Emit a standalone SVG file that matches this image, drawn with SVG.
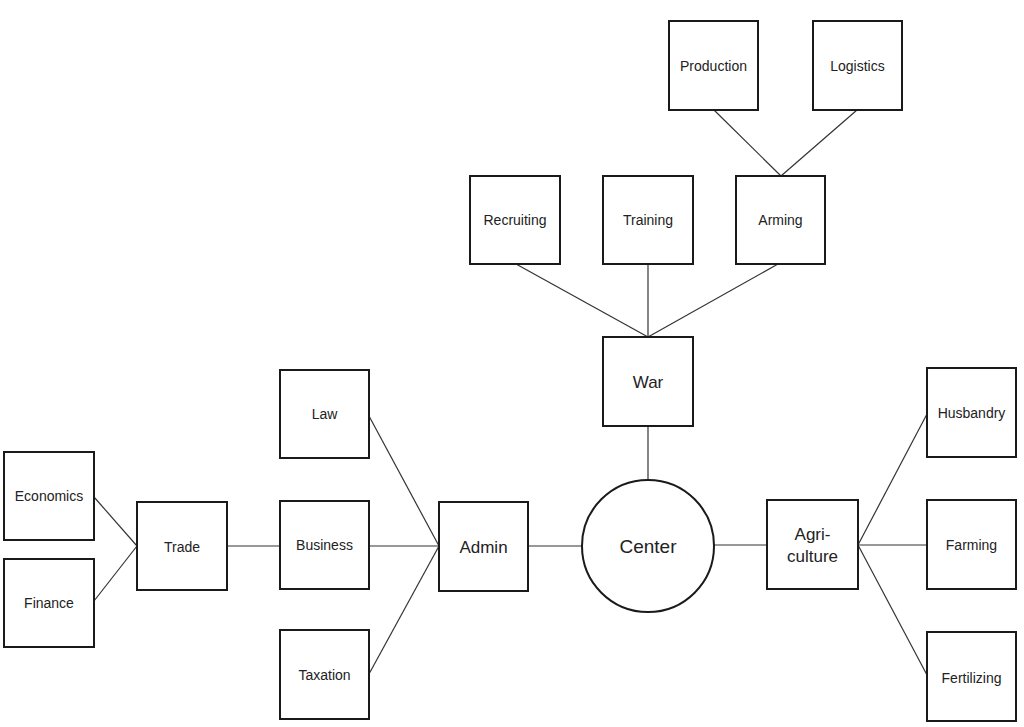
<svg xmlns="http://www.w3.org/2000/svg" width="1024" height="727" viewBox="0 0 1024 727">
<style>
.box{fill:#fff;stroke:#1a1a1a;stroke-width:2}
.lbl{font-family:"Liberation Sans",Arial,sans-serif;font-size:14px;fill:#222;text-anchor:middle}
.big{font-size:17px}
.ctr{font-size:19px}
.conn line{stroke:#333;stroke-width:1.2}
</style>
<rect width="1024" height="727" fill="#fff"/>
<g id="connectors" class="conn">
<line x1="714" y1="110" x2="781" y2="176"/>
<line x1="857" y1="110" x2="781" y2="176"/>
<line x1="516" y1="264" x2="648" y2="337"/>
<line x1="648" y1="264" x2="648" y2="337"/>
<line x1="778" y1="264" x2="648" y2="337"/>
<line x1="648" y1="426" x2="648" y2="480"/>
<line x1="528" y1="546" x2="582" y2="546"/>
<line x1="714" y1="545" x2="767" y2="545"/>
<line x1="858" y1="545" x2="927" y2="414"/>
<line x1="858" y1="545" x2="927" y2="545"/>
<line x1="858" y1="545" x2="927" y2="675"/>
<line x1="369" y1="546" x2="439" y2="546"/>
<line x1="369" y1="416" x2="439" y2="546"/>
<line x1="369" y1="674" x2="439" y2="546"/>
<line x1="227" y1="546" x2="280" y2="546"/>
<line x1="94" y1="497" x2="137" y2="546"/>
<line x1="94" y1="601" x2="137" y2="546"/>
</g>
<g id="production"><rect class="box" x="669" y="21" width="89" height="89"/><text class="lbl" x="713.5" y="70.5">Production</text></g>
<g id="logistics"><rect class="box" x="813" y="21" width="89" height="89"/><text class="lbl" x="857.5" y="70.5">Logistics</text></g>
<g id="recruiting"><rect class="box" x="470" y="176" width="90" height="88"/><text class="lbl" x="515" y="225">Recruiting</text></g>
<g id="training"><rect class="box" x="603" y="176" width="90" height="88"/><text class="lbl" x="648" y="225">Training</text></g>
<g id="arming"><rect class="box" x="736" y="176" width="89" height="88"/><text class="lbl" x="780.5" y="225">Arming</text></g>
<g id="war"><rect class="box" x="603" y="337" width="90" height="89"/><text class="lbl big" x="648" y="388">War</text></g>
<g id="center"><circle class="box" cx="648" cy="546" r="66"/><text class="lbl ctr" x="648" y="553">Center</text></g>
<g id="agriculture"><rect class="box" x="767" y="500" width="91" height="89"/><text class="lbl big" x="812.5" y="540">Agri-</text><text class="lbl big" x="812.5" y="562">culture</text></g>
<g id="husbandry"><rect class="box" x="927" y="368" width="89" height="89"/><text class="lbl" x="971.5" y="418">Husbandry</text></g>
<g id="farming"><rect class="box" x="927" y="500" width="89" height="89"/><text class="lbl" x="971.5" y="550">Farming</text></g>
<g id="fertilizing"><rect class="box" x="927" y="632" width="89" height="89"/><text class="lbl" x="971.5" y="683">Fertilizing</text></g>
<g id="admin"><rect class="box" x="439" y="502" width="89" height="89"/><text class="lbl big" x="483.5" y="553">Admin</text></g>
<g id="law"><rect class="box" x="280" y="370" width="89" height="88"/><text class="lbl" x="324.5" y="419">Law</text></g>
<g id="business"><rect class="box" x="280" y="501" width="89" height="88"/><text class="lbl" x="324.5" y="550">Business</text></g>
<g id="taxation"><rect class="box" x="280" y="630" width="89" height="89"/><text class="lbl" x="324.5" y="680">Taxation</text></g>
<g id="trade"><rect class="box" x="137" y="502" width="90" height="88"/><text class="lbl" x="182" y="552">Trade</text></g>
<g id="economics"><rect class="box" x="4" y="452" width="90" height="88"/><text class="lbl" x="49" y="501">Economics</text></g>
<g id="finance"><rect class="box" x="4" y="559" width="90" height="88"/><text class="lbl" x="49" y="608">Finance</text></g>
</svg>
